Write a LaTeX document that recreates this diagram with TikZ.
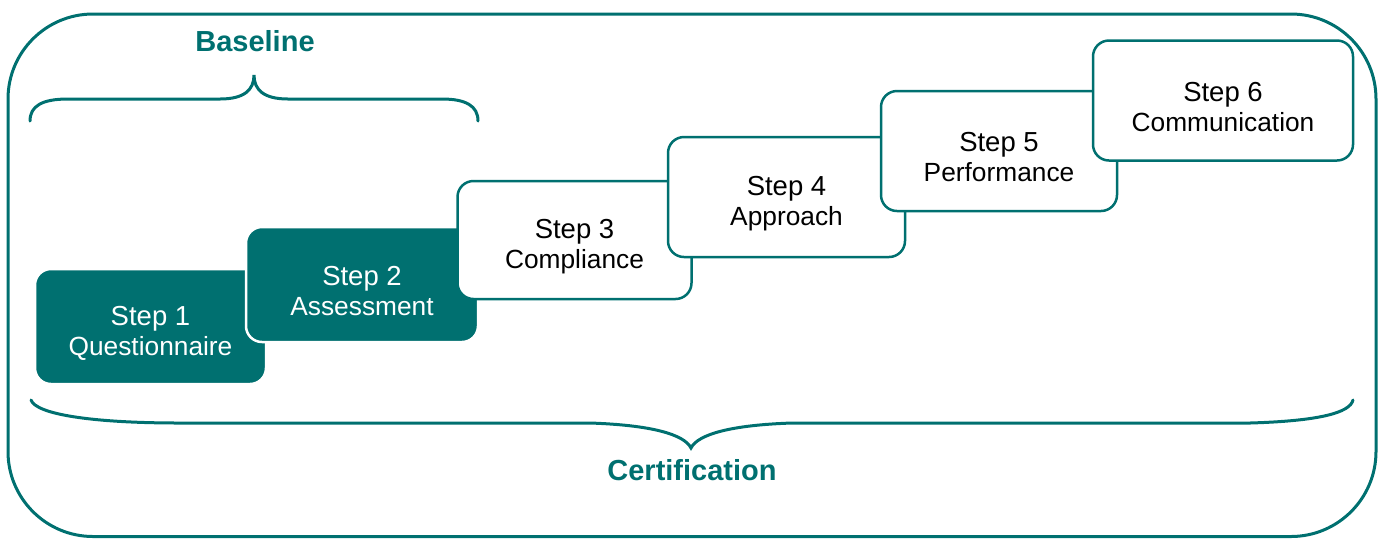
\documentclass[tikz,border=0pt]{standalone}
\usepackage{fontspec}
\setmainfont{Liberation Sans}
\definecolor{certteal}{RGB}{0,112,112}
\tikzset{
  stepbox/.style={draw=certteal, fill=white, line width=1.25pt, rounded corners=8pt,
    minimum width=117pt, minimum height=59pt, inner sep=0pt, align=center,
    text height=31pt, font=\fontsize{13.75}{15}\selectfont},
  donebox/.style={stepbox, draw=white, fill=certteal, text=white},
  bracket/.style={draw=certteal, line width=1.5pt, line cap=round},
  bracelabel/.style={text=certteal, font=\bfseries\fontsize{14.5}{16}\selectfont},
}
\newcommand{\steptext}[2]{Step #1\\{\fontsize{13.15}{15}\selectfont #2}}
\begin{document}
\begin{tikzpicture}[x=0.5pt, y=-0.5pt]
    \useasboundingbox (0,0) rectangle (1381,538);

    % outer frame
    \draw[certteal, line width=1.5pt, rounded corners=42.5pt] (8,14) rectangle (1376,536.5);

    % steps, each one over the one before
    \node[donebox, minimum width=115.5pt, minimum height=57.5pt] (step1) at (150.5,326.5) {\steptext{1}{Questionnaire}};
    \node[donebox, minimum width=116pt, minimum height=57.5pt] (step2) at (362,284.5) {\steptext{2}{Assessment}};
    \node[stepbox] (step3) at (574.5,240) {\steptext{3}{Compliance}};
    \node[stepbox, minimum width=118.5pt, minimum height=60pt] (step4) at (786.5,197) {\steptext{4}{Approach}};
    \node[stepbox, minimum width=118pt, minimum height=60pt] (step5) at (999,151) {\steptext{5}{Performance}};
    \node[stepbox, minimum width=130pt, minimum height=60pt] (step6) at (1223,100.5) {\steptext{6}{Communication}};

    % baseline brace
    \draw[bracket] (30,121) .. controls (30,106) and (42,99) .. (68,99) -- (220,99)
        .. controls (244,99) and (254,90) .. (254,75)
        .. controls (254,90) and (264,99) .. (288,99) -- (442,99)
        .. controls (466,99) and (478,106) .. (478,121);
    \node[bracelabel] (baseline) at (255,41) {Baseline};

    % certification brace
    \draw[bracket] (31,400) .. controls (36,414) and (90,423) .. (180,423) -- (590,423)
        .. controls (650,425) and (684,434) .. (691,448)
        .. controls (698,434) and (732,425) .. (792,423) -- (1250,423)
        .. controls (1318,421) and (1350,413) .. (1353,400);
    \node[bracelabel] (certification) at (692,470) {Certification};
\end{tikzpicture}
\end{document}
